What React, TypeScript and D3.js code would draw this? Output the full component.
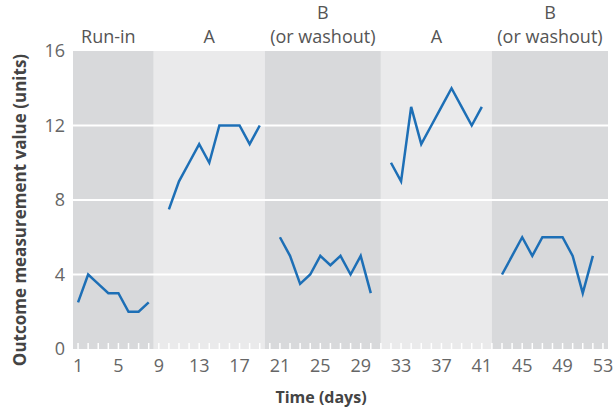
import * as d3 from "d3";
import React from "react";

// phases of the n-of-1 trial
const phaseLabels: string[][] = [["Run-in"], ["A"], ["B", "(or washout)"], ["A"], ["B", "(or washout)"]];
const phaseEdges = [0.5, 8.5, 19.5, 31, 42, 53.5];
const phaseShade = ["dark", "light", "dark", "light", "dark"];

// measurements, one run of days per phase
const runInDays = [1, 2, 3, 4, 5, 6, 7, 8];
const runInValues = [2.5, 4, 3.5, 3, 3, 2, 2, 2.5];
const a1Days = [10, 11, 12, 13, 14, 15, 16, 17, 18, 19];
const a1Values = [7.5, 9, 10, 11, 10, 12, 12, 12, 11, 12];
const b1Days = [21, 22, 23, 24, 25, 26, 27, 28, 29, 30];
const b1Values = [6, 5, 3.5, 4, 5, 4.5, 5, 4, 5, 3];
const a2Days = [32, 33, 34, 35, 36, 37, 38, 39, 40, 41];
const a2Values = [10, 9, 13, 11, 12, 13, 14, 13, 12, 13];
const b2Days = [43, 44, 45, 46, 47, 48, 49, 50, 51, 52];
const b2Values = [4, 5, 6, 5, 6, 6, 6, 5, 3, 5];

const xTicks = [1, 5, 9, 13, 17, 21, 25, 29, 33, 37, 41, 45, 49, 53];
const yTicks = [0, 4, 8, 12, 16];

const width = 614;
const height = 414;
const margin = { top: 51, right: 6, bottom: 65, left: 73 };
const font = "'Open Sans', 'Noto Sans', sans-serif";

const x = d3.scaleLinear().domain([0.5, 53.5]).range([margin.left, width - margin.right]);
const y = d3.scaleLinear().domain([0, 16]).range([height - margin.bottom, margin.top]);

const line = d3
    .line<[number, number]>()
    .x((d) => x(d[0]))
    .y((d) => y(d[1]));

const segments: Array<[number[], number[]]> = [
    [runInDays, runInValues],
    [a1Days, a1Values],
    [b1Days, b1Values],
    [a2Days, a2Values],
    [b2Days, b2Values],
];

const App: React.FC = () => {
    const y0 = y(0);
    const allDays = d3.range(1, 54);
    return (
        <svg width={width} height={height} style={{ display: "block", position: "absolute", left: 0, top: 0 }}>
            <rect width={width} height={height} fill="#fff" />
            {phaseLabels.map((_, i) => (
                <rect
                    key={"band" + i}
                    x={x(phaseEdges[i])}
                    y={y(16)}
                    width={x(phaseEdges[i + 1]) - x(phaseEdges[i])}
                    height={y0 - y(16)}
                    fill={phaseShade[i] === "dark" ? "#d8d9db" : "#eaeaeb"}
                />
            ))}
            {yTicks.filter((t) => t > 0 && t < 16).map((t) => (
                <line key={"g" + t} x1={x(0.5)} x2={x(53.5)} y1={y(t)} y2={y(t)} stroke="#fff" strokeWidth={2} />
            ))}
            {allDays.map((d) => (
                <line key={"t" + d} x1={x(d)} x2={x(d)} y1={y0 - 6} y2={y0} stroke="#fff" strokeWidth={1.5} />
            ))}
            {segments.map(([days, vals], i) => (
                <path
                    key={"s" + i}
                    d={line(days.map((d, j) => [d, vals[j]] as [number, number])) || ""}
                    fill="none"
                    stroke="#1d6fb6"
                    strokeWidth={2.5}
                    strokeLinejoin="miter"
                />
            ))}
            {phaseLabels.map((lines, i) => {
                const cx = (x(phaseEdges[i]) + x(phaseEdges[i + 1])) / 2 - (i === 0 ? 5 : 0);
                return lines.map((l, k) => (
                    <text
                        key={"p" + i + "-" + k}
                        x={cx}
                        y={43 - (lines.length - 1 - k) * 24.5}
                        textAnchor="middle"
                        fontFamily={font}
                        fontSize={18}
                        fill="#555"
                    >
                        {l}
                    </text>
                ));
            })}
            {yTicks.map((t) => (
                <text key={"yl" + t} x={65} y={y(t)} dy="0.35em" textAnchor="end" fontFamily={font} fontSize={18} fill="#666">
                    {t}
                </text>
            ))}
            {xTicks.map((t) => (
                <text key={"xl" + t} x={x(t)} y={372} textAnchor="middle" fontFamily={font} fontSize={18} fill="#666">
                    {t}
                </text>
            ))}
            <text x={321} y={403} textAnchor="middle" fontFamily={font} fontSize={16} fontWeight="bold" fill="#444">
                Time (days)
            </text>
            <text
                transform={`translate(26, 210) rotate(-90)`}
                textAnchor="middle"
                fontFamily={font}
                fontSize={17}
                fontWeight="bold"
                fill="#444"
            >
                Outcome measurement value (units)
            </text>
        </svg>
    );
};

export default App;
